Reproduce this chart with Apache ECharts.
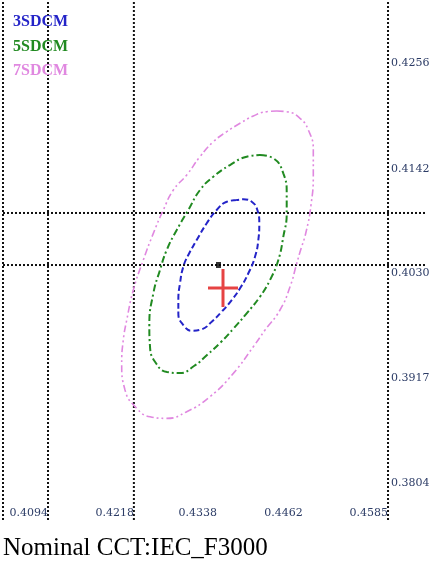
<!DOCTYPE html>
<html>
<head>
<meta charset="utf-8">
<script src="https://cdn.jsdelivr.net/npm/echarts@6/dist/echarts.min.js"></script>
<style>
  html, body { margin: 0; padding: 0; background: #fff; }
  #chart { width: 435px; height: 562px; }
</style>
</head>
<body>
<div id="chart"></div>
<script>
// ---- data ----
const xTicks = [0.4094, 0.4218, 0.4338, 0.4462, 0.4585];
const yTicks = [0.4256, 0.4142, 0.4030, 0.3917, 0.3804];
const vGuides = [0.4029, 0.4094, 0.4218, 0.4585];
const hGuides = [0.4086, 0.4030];
const seriesNames = ['3SDCM', '5SDCM', '7SDCM'];
const targetPoint = [0.43402, 0.40300];
const measuredPoint = [0.43467, 0.40053];
const titleText = 'Nominal CCT:IEC_F3000';

const sdcm3 = [
  [0.43665, 0.40999], [0.43521, 0.40981], [0.43376, 0.40892], [0.43232, 0.40749],
  [0.43087, 0.40569], [0.42966, 0.40408], [0.42894, 0.40282], [0.42846, 0.40103],
  [0.42822, 0.39923], [0.42822, 0.39780], [0.42894, 0.39654], [0.43015, 0.39593],
  [0.43160, 0.39608], [0.43304, 0.39690], [0.43448, 0.39797], [0.43593, 0.39923],
  [0.43713, 0.40049], [0.43833, 0.40211], [0.43929, 0.40389], [0.43977, 0.40569],
  [0.43991, 0.40749], [0.43963, 0.40892], [0.43882, 0.40981], [0.43760, 0.41007],
  [0.43665, 0.40999]
];
const sdcm5 = [
  [0.44001, 0.41484], [0.44194, 0.41448], [0.44338, 0.41287], [0.44387, 0.41072],
  [0.44387, 0.40856], [0.44338, 0.40605], [0.44266, 0.40354], [0.44146, 0.40139],
  [0.44001, 0.39959], [0.43809, 0.39780], [0.43626, 0.39622], [0.43438, 0.39471],
  [0.43236, 0.39331], [0.43048, 0.39213], [0.42846, 0.39138], [0.42659, 0.39148],
  [0.42485, 0.39259], [0.42413, 0.39421], [0.42403, 0.39654], [0.42461, 0.39995],
  [0.42557, 0.40246], [0.42654, 0.40461], [0.42799, 0.40677], [0.42966, 0.40892],
  [0.43135, 0.41107], [0.43327, 0.41250], [0.43568, 0.41376], [0.43809, 0.41466],
  [0.44001, 0.41484]
];
const sdcm7 = [
  [0.44243, 0.41957], [0.44387, 0.41950], [0.44579, 0.41879], [0.44699, 0.41753],
  [0.44771, 0.41538], [0.44771, 0.41269], [0.44738, 0.40946], [0.44666, 0.40655],
  [0.44579, 0.40440], [0.44532, 0.40318], [0.44435, 0.40066], [0.44290, 0.39816],
  [0.44074, 0.39600], [0.43905, 0.39421], [0.43616, 0.39134], [0.43279, 0.38883],
  [0.42943, 0.38721], [0.42654, 0.38650], [0.42413, 0.38667], [0.42221, 0.38758],
  [0.42052, 0.38955], [0.42004, 0.39242], [0.42027, 0.39493], [0.42077, 0.39708],
  [0.42172, 0.40031], [0.42316, 0.40354], [0.42461, 0.40641], [0.42605, 0.40892],
  [0.42750, 0.41107], [0.42943, 0.41269], [0.43135, 0.41466], [0.43327, 0.41627],
  [0.43521, 0.41735], [0.43713, 0.41825], [0.43905, 0.41904], [0.44098, 0.41950],
  [0.44243, 0.41957]
];

// ---- axis extents ----
const X_MIN = 0.4029, X_MAX = 0.46384;
const Y_MIN = 0.37556, Y_MAX = 0.43152;

// ---- chart ----
const colors = ['#2424c8', '#218a21', '#e088e0'];
const labelFont = 'DejaVu Serif';
const labelColor = '#2c3c66';
const guideStyle = { color: '#111', width: 2, type: [2, 2] };

const chart = echarts.init(document.getElementById('chart'), null, { renderer: 'canvas' });

const guideSeries = vGuides.map(v => ({
  name: 'vguide', type: 'line', silent: true, symbol: 'none', showSymbol: false, z: 1,
  data: [[v, Y_MIN], [v, Y_MAX]], lineStyle: guideStyle
})).concat(hGuides.map(v => ({
  name: 'hguide', type: 'line', silent: true, symbol: 'none', showSymbol: false, z: 1,
  data: [[X_MIN, v], [X_MAX, v]], lineStyle: guideStyle
})));

chart.setOption({
  animation: false,
  backgroundColor: '#ffffff',
  grid: { left: 3, right: 10, top: 0, bottom: 42, containLabel: false },
  legend: {
    orient: 'vertical',
    left: 3,
    top: 9,
    icon: 'none',
    itemWidth: 0,
    itemHeight: 14,
    itemGap: 8.5,
    selectedMode: false,
    textStyle: { fontFamily: 'Liberation Serif', fontWeight: 'bold', fontSize: 16, lineHeight: 16 },
    data: seriesNames.map((n, i) => ({ name: n, textStyle: { color: colors[i] } }))
  },
  xAxis: {
    type: 'value',
    min: X_MIN,
    max: X_MAX,
    axisLine: { show: false },
    axisTick: { show: false },
    splitLine: { show: false },
    axisLabel: {
      inside: true,
      customValues: xTicks,
      formatter: v => v.toFixed(4),
      align: 'right',
      verticalAlign: 'bottom',
      margin: 1,
      fontFamily: labelFont,
      fontSize: 11,
      color: labelColor
    }
  },
  yAxis: {
    type: 'value',
    position: 'right',
    offset: -37,
    min: Y_MIN,
    max: Y_MAX,
    axisLine: { show: false },
    axisTick: { show: false },
    splitLine: { show: false },
    axisLabel: {
      customValues: yTicks,
      formatter: v => v.toFixed(4),
      align: 'left',
      verticalAlign: 'top',
      padding: [3, 0, 0, 0],
      margin: 3,
      fontFamily: labelFont,
      fontSize: 11,
      color: labelColor
    }
  },
  series: guideSeries.concat([
    {
      name: seriesNames[2], type: 'line', data: sdcm7, showSymbol: false, symbol: 'none',
      smooth: 0.5, z: 3,
      lineStyle: { color: colors[2], width: 1.6, type: [7, 3, 2, 3, 2, 3] }
    },
    {
      name: seriesNames[1], type: 'line', data: sdcm5, showSymbol: false, symbol: 'none',
      smooth: 0.5, z: 4,
      lineStyle: { color: colors[1], width: 2, type: [7, 3, 2, 3] }
    },
    {
      name: seriesNames[0], type: 'line', data: sdcm3, showSymbol: false, symbol: 'none',
      smooth: 0.5, z: 5,
      lineStyle: { color: colors[0], width: 2, type: [6, 3] }
    },
    {
      name: 'target', type: 'scatter', data: [targetPoint], z: 6,
      symbol: 'rect', symbolSize: [5, 6],
      itemStyle: { color: '#000' }
    },
    {
      name: 'measured', type: 'scatter', data: [measuredPoint], z: 7,
      symbol: 'path://M0,17.5h30v3H0z M13.5,0h3v38h-3z',
      symbolKeepAspect: false,
      symbolSize: [30, 38],
      itemStyle: { color: '#e01414' }
    }
  ]),
  graphic: [
    {
      type: 'text',
      left: 3,
      top: 536,
      style: { text: titleText, font: '25px "Liberation Serif"', fill: '#000' }
    }
  ]
});
</script>
</body>
</html>
